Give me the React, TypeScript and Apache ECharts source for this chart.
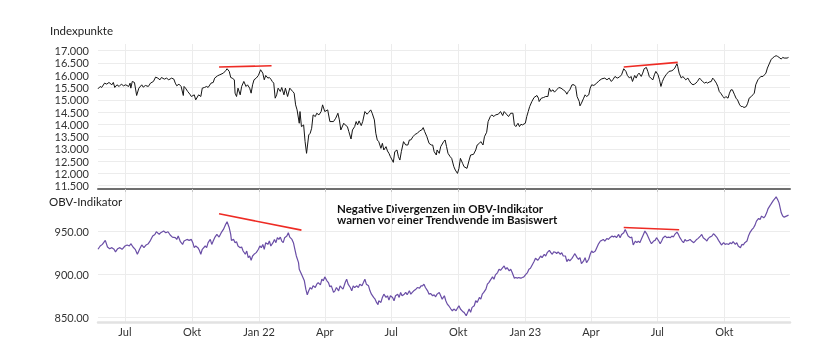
import React, { useEffect, useRef } from "react";
import * as echarts from "echarts";

// x positions are days counted from START_DATE
const START_DATE = "2021-05-25";
const END_DAY = 949;

const tickDates = ["2021-07-01", "2021-10-01", "2022-01-01", "2022-04-01", "2022-07-01", "2022-10-01", "2023-01-01", "2023-04-01", "2023-07-01", "2023-10-01"];
const tickLabels = ["Jul", "Okt", "Jan 22", "Apr", "Jul", "Okt", "Jan 23", "Apr", "Jul", "Okt"];

const priceTicks = [11500, 12000, 12500, 13000, 13500, 14000, 14500, 15000, 15500, 16000, 16500, 17000];
const obvTicks = [850, 900, 950];

const priceDays = [
  0, 3, 5, 9, 12, 15, 19, 21, 23, 26, 29, 32, 35, 38, 42, 44, 45, 47, 50, 53, 56, 60, 62, 65, 69, 72, 76, 79, 82, 85, 87, 91, 94, 97, 101, 104, 106, 108, 111, 114, 117, 118, 120, 123, 126, 128, 132, 134, 138, 141, 143, 146, 149, 151, 155, 158, 160, 164, 167, 172, 175, 177, 180, 182, 184, 187, 188, 190, 192, 195, 197, 200, 203, 205, 208, 210, 212, 214, 217, 220, 223, 226, 228, 230, 233, 235, 237, 239, 241, 243, 245, 247, 250, 252, 255, 257, 260, 263, 267, 269, 271, 273, 276, 277, 279, 282, 284, 286, 289, 291, 293, 295, 298, 300, 303, 306, 308, 311, 315, 318,
  323, 326, 329, 331, 333, 337, 339, 342, 344, 347, 349, 352, 354, 356, 358, 361, 363, 366, 369, 371, 374, 376, 379, 381, 383, 385, 388, 390, 392, 395, 397, 399, 401, 405, 407, 410, 412, 414, 416, 419, 422, 425, 427, 429, 432, 435, 438, 441, 444, 446, 448, 451, 454, 457, 459, 461, 464, 465, 468, 470, 474, 476, 478, 480, 483, 485, 488, 490, 493, 495, 497, 500, 502, 506, 509, 511, 515, 518, 520, 523, 525, 528, 530, 533, 535, 538, 540, 543, 545, 549, 552, 555, 557, 561, 563, 566, 569, 571, 573, 576, 578, 580, 582, 586, 588, 590, 592, 595, 598, 602, 604, 605, 608, 611, 614, 617, 619, 621, 624, 626,
  629, 632, 635, 638, 641, 643, 645, 647, 650, 653, 655, 657, 660, 661, 663, 666, 668, 670, 673, 675, 677, 680, 684, 687, 691, 695, 698, 701, 704, 706, 709, 712, 715, 718, 721, 724, 726, 729, 731, 733, 736, 738, 740, 742, 745, 747, 749, 752, 754, 756, 758, 761, 763, 765, 768, 770, 772, 774, 776, 779, 781, 783, 787, 789, 791, 794, 795, 797, 800, 802, 804, 806, 809, 811, 813, 816, 818, 820, 822, 825, 827, 829, 832, 834, 836, 838, 841, 843, 845, 848, 850, 852, 854, 857, 859, 861, 864, 866, 868, 870, 873, 875, 877, 880, 882, 884, 886, 889, 891, 893, 896, 898, 900, 902, 905, 907, 909, 912, 914, 916, 918, 921, 923, 925, 928, 930, 932, 934, 937, 939, 941, 945, 947,
];
const priceValues = [
  15447, 15543, 15502, 15679, 15638, 15706, 15611, 15706, 15502, 15611, 15543, 15638, 15570, 15611, 15543, 15679, 15475, 15747, 15706, 15175, 15475, 15611, 15515, 15584, 15543, 15679, 15747, 15924, 15883, 15815, 15910, 15842, 15883, 15815, 15883, 15842, 15679, 15570, 15638, 15543, 15175, 15543, 15475, 15338, 15229, 15134, 15202, 14998, 15202, 15134, 15475, 15502, 15543, 15502, 15679, 15706, 15883, 15978, 16019, 16087, 16183, 16265, 16156, 15910, 15883, 15815, 15270, 15134, 15475, 15202, 15543, 15747, 15543, 15611, 15475, 15270, 15611, 15815, 15883, 15992, 16224, 16087, 15815, 15992, 15883, 15910, 15842, 15747, 15679, 15066, 15202, 15475, 15338, 15502, 15202, 15475, 15134, 15475, 15338, 15270, 14794, 14589, 14044, 14521, 13908, 13976, 13295, 12819, 13568, 13636, 13840, 14385, 14317, 14453, 14385, 14521, 14794, 14521, 14589, 14113,
  14113, 14249, 14453, 14181, 13772, 14044, 13976, 13908, 13704, 13404, 13772, 13908, 14113, 13976, 14140, 13949, 14113, 14521, 14412, 14480, 14589, 14453, 14181, 13636, 13363, 13295, 13023, 13227, 12955, 13091, 12914, 12819, 12682, 12451, 12887, 12955, 12682, 12546, 12887, 13295, 13159, 13159, 13363, 13363, 13500, 13595, 13636, 13731, 13772, 13867, 13704, 13500, 13227, 13159, 13159, 12887, 12751, 12955, 12819, 13091, 13295, 13363, 13091, 12819, 12682, 12614, 12274, 12138, 12001, 12206, 12614, 12410, 12274, 12206, 12546, 12751, 12778, 12955, 13159, 13227, 13295, 13159, 13500, 13677, 14113, 14317, 14385, 14317, 14385, 14412, 14521, 14358, 14521, 14385, 14317, 14453, 14453, 13976, 13908, 14044, 13908, 14004, 13976, 14044, 14317, 14521, 14725, 14930, 15093, 15175, 15066, 14930, 15066, 15093, 15134, 15134, 15475, 15338, 15406, 15311,
  15406, 15502, 15475, 15406, 15338, 15229, 15338, 15406, 15611, 15611, 15543, 15134, 14930, 14753, 14862, 15066, 15202, 15134, 15202, 15475, 15611, 15584, 15679, 15774, 15856, 15883, 15815, 15883, 15747, 15815, 15951, 15883, 15924, 16019, 16265, 16156, 15992, 15883, 15951, 15747, 15992, 15883, 16019, 16087, 15951, 16087, 16265, 16319, 16156, 15951, 15883, 15815, 16019, 16156, 16019, 15815, 15543, 15747, 15883, 16019, 16087, 16156, 16183, 16224, 16292, 16469, 16360, 16087, 15883, 15951, 15883, 15815, 15883, 15774, 15679, 15611, 15638, 15679, 15747, 15883, 15815, 15747, 15679, 15720, 15679, 15720, 15747, 15883, 15815, 15679, 15543, 15338, 15270, 15134, 15066, 15134, 15066, 15270, 15406, 15406, 15202, 15066, 14998, 14794, 14725, 14725, 14685, 14725, 14862, 15066, 15134, 15202, 15270, 15611, 15815, 15883, 15951, 15951, 16019, 16087, 16292, 16496, 16632, 16700, 16768, 16796, 16768, 16728, 16659, 16728, 16700, 16700, 16728,
];

const obvDays = [
  0, 3, 6, 10, 13, 16, 19, 22, 24, 27, 30, 33, 37, 40, 43, 45, 48, 51, 54, 57, 60, 63, 66, 69, 72, 75, 78, 80, 84, 86, 90, 93, 96, 99, 102, 106, 108, 110, 113, 116, 118, 122, 125, 128, 130, 132, 134, 137, 139, 141, 143, 147, 149, 151, 154, 156, 158, 160, 163, 166, 169, 172, 175, 177, 180, 182, 183, 186, 188, 190, 192, 195, 197, 199, 202, 204, 206, 208, 210, 212, 214, 217, 220, 222, 224, 226, 228, 230, 233, 235, 237, 240, 242, 244, 246, 248, 250, 252, 254, 256, 259, 261, 263, 266, 268, 270, 272, 275, 276, 278, 280, 283, 285, 287, 289, 291, 293, 295, 298, 300, 302, 305, 307, 309, 311, 314, 316, 318,
  320, 323, 325, 327, 330, 332, 334, 336, 339, 341, 343, 346, 348, 350, 352, 355, 357, 359, 362, 364, 366, 368, 371, 373, 375, 378, 380, 382, 384, 385, 388, 390, 392, 395, 397, 399, 401, 404, 406, 408, 411, 413, 415, 417, 420, 422, 424, 427, 429, 431, 433, 436, 438, 441, 443, 445, 447, 449, 452, 454, 456, 459, 461, 463, 465, 468, 470, 472, 475, 477, 479, 481, 484, 486, 488, 491, 493, 495, 497, 500, 502, 505, 507, 509, 511, 513, 516, 518, 520, 523, 525, 527, 529, 532, 534, 536, 539, 541, 543, 545, 548, 550, 552, 555, 557, 559, 561, 564, 566, 568, 571, 573, 575, 577, 580, 582, 584, 587, 589, 591, 593, 596, 598, 600, 603, 605, 607, 609, 612, 614, 616, 619, 621, 623, 625, 628,
  629, 631, 634, 636, 638, 641, 643, 645, 647, 650, 652, 654, 657, 659, 661, 663, 666, 668, 670, 673, 675, 677, 679, 682, 684, 686, 689, 691, 693, 695, 698, 700, 702, 705, 707, 709, 711, 714, 716, 718, 721, 723, 725, 727, 730, 732, 734, 737, 739, 741, 743, 746, 748, 750, 753, 755, 757, 759, 762, 764, 766, 769, 771, 773, 775, 778, 780, 782, 785, 787, 789, 791, 794, 796, 798, 801, 803, 805, 807, 810, 812, 814, 817, 819, 821, 823, 826, 828, 830, 833, 835, 837, 839, 842, 844, 846, 849, 851, 853, 855, 858, 860, 862, 865, 867, 869, 871, 874, 876, 878, 881, 883, 885, 887, 890, 892, 894, 897, 899, 901, 903, 906, 908, 910, 913, 915, 917, 919, 922, 924, 926, 929, 930, 932, 934, 937, 939, 941, 944, 947,
];
const obvValues = [
  929.2, 933.0, 934.9, 939.6, 931.9, 929.9, 931.1, 929.2, 926.1, 929.9, 931.1, 929.2, 933.0, 934.2, 933.0, 935.7, 931.9, 929.2, 923.4, 929.2, 934.2, 931.1, 934.2, 935.7, 939.6, 944.6, 946.5, 949.6, 946.5, 948.5, 950.4, 948.5, 949.6, 945.8, 943.4, 942.7, 940.7, 944.6, 938.0, 934.9, 938.8, 940.7, 939.6, 940.7, 936.9, 931.1, 933.0, 931.1, 928.0, 923.4, 929.2, 933.0, 931.1, 936.9, 940.7, 934.9, 938.8, 942.7, 946.5, 943.4, 948.5, 952.3, 958.1, 961.2, 954.2, 946.5, 939.6, 940.7, 936.9, 938.0, 933.0, 931.1, 931.9, 927.2, 923.4, 927.2, 919.5, 921.4, 916.4, 921.4, 923.4, 925.3, 929.2, 933.0, 931.1, 934.9, 929.2, 936.9, 934.9, 938.8, 933.0, 936.9, 940.7, 936.9, 942.7, 940.7, 943.4, 938.8, 936.9, 942.7, 944.6, 948.5, 943.4, 940.7, 936.9, 929.2, 921.4, 913.7, 906.0, 902.1, 898.3, 892.5, 882.8, 876.3, 880.9, 884.7, 882.8, 886.7, 884.7, 888.6, 890.5, 887.8, 894.4, 892.5, 897.1, 892.5, 890.5, 885.5,
  886.7, 879.0, 880.9, 884.7, 880.9, 886.7, 884.7, 882.8, 890.5, 894.4, 888.6, 884.7, 880.9, 886.7, 884.7, 886.7, 884.7, 888.6, 886.7, 890.5, 894.4, 888.6, 886.7, 880.9, 877.0, 873.2, 871.2, 867.4, 864.7, 869.3, 867.4, 873.2, 877.0, 873.2, 875.1, 870.1, 875.1, 873.2, 869.3, 875.1, 877.0, 873.2, 879.0, 875.1, 877.0, 879.0, 876.3, 880.9, 877.0, 879.0, 880.9, 882.8, 884.7, 884.0, 886.7, 886.7, 888.6, 884.7, 880.9, 877.0, 877.8, 875.1, 876.3, 873.9, 877.0, 879.0, 875.1, 871.2, 875.1, 869.3, 865.4, 863.5, 859.7, 857.7, 859.7, 857.7, 860.8, 863.5, 859.7, 856.9, 855.8, 851.9, 855.8, 859.7, 855.8, 861.6, 863.5, 869.3, 867.4, 873.2, 871.2, 877.0, 879.0, 882.8, 888.6, 890.5, 894.4, 897.1, 894.4, 899.4, 902.1, 906.0, 904.8, 907.9, 909.8, 906.0, 907.9, 904.1, 906.0, 902.1, 895.6, 896.3, 895.6, 896.3, 895.6, 896.3, 897.1, 900.2, 902.1, 906.0, 907.1, 911.8, 914.9, 918.7, 916.4, 918.7, 921.4, 919.5, 923.4, 921.4, 925.3, 928.0, 925.3, 923.4, 926.4, 925.3,
  924.1, 926.1, 923.4, 925.3, 921.4, 921.4, 914.9, 917.6, 915.6, 918.7, 921.4, 924.1, 919.5, 917.6, 919.5, 912.5, 915.6, 919.5, 913.7, 917.6, 923.4, 927.2, 925.3, 927.2, 931.1, 934.9, 938.8, 939.6, 940.7, 938.8, 941.9, 940.7, 942.7, 944.6, 943.4, 944.6, 942.7, 946.5, 942.7, 946.5, 948.5, 952.3, 948.5, 944.6, 942.7, 943.4, 934.2, 938.8, 936.9, 938.8, 936.9, 942.7, 946.5, 950.4, 946.5, 942.7, 938.8, 935.7, 938.8, 939.6, 942.7, 938.8, 935.7, 938.8, 942.7, 944.6, 942.7, 943.4, 942.7, 944.6, 943.4, 946.5, 949.2, 946.5, 942.7, 938.8, 936.9, 940.7, 938.8, 939.6, 940.7, 938.8, 936.9, 938.8, 940.7, 941.9, 944.6, 946.5, 942.7, 940.7, 938.8, 941.9, 943.4, 944.6, 947.3, 945.8, 942.7, 939.6, 936.9, 934.2, 936.9, 934.9, 935.7, 934.9, 936.9, 935.7, 938.0, 934.9, 936.9, 933.0, 931.1, 934.9, 934.2, 936.9, 938.8, 944.6, 948.5, 952.3, 954.2, 957.3, 962.0, 965.1, 963.9, 967.8, 965.8, 967.8, 971.6, 976.6, 980.5, 983.2, 985.9, 989.0, 990.2, 987.1, 983.2, 971.6, 967.8, 966.6, 967.8, 968.9,
];

// divergence lines: [day, value]
const priceDivergence1 = [[166, 16333], [238, 16387]];
const priceDivergence2 = [[721, 16333], [795, 16523]];
const obvDivergence1 = [[166, 970.5], [279, 951.5]];
const obvDivergence2 = [[721, 954.6], [797, 951.9]];

const annotationLines = ["Negative Divergenzen im OBV-Indikator", "warnen vor einer Trendwende im Basiswert"];

const FONT = "Lato, 'Noto Sans', sans-serif";
const DAY_MS = 86400000;
const START_TS = Date.parse(START_DATE);
const tickDays = tickDates.map((d) => Math.round((Date.parse(d) - START_TS) / DAY_MS));

const formatDe = (v: number) => String(Math.round(v)).replace(/\B(?=(\d{3})+(?!\d))/g, ".");

export default function App() {
  const ref = useRef<HTMLDivElement>(null);
  useEffect(() => {
    if (!ref.current) return;
    const chart = echarts.init(ref.current, undefined, { renderer: "svg" });
    const gridColor = "#ececec";
    const xLabel = (v: number) => {
      const i = tickDays.indexOf(Math.round(v));
      return i >= 0 ? tickLabels[i] : "";
    };
    const baseX = {
      type: "value" as const,
      min: 0,
      max: END_DAY,
      splitLine: { show: true, lineStyle: { color: gridColor, width: 1 } },
    };
    const option: any = {
      animation: false,
      textStyle: { fontFamily: FONT },
      grid: [
        { left: 98, right: 50, top: 44, height: 145 },
        { left: 98, right: 50, top: 190.5, height: 131.5 },
      ],
      xAxis: [
        {
          ...baseX,
          gridIndex: 0,
          axisLine: { show: true, onZero: false, lineStyle: { color: "#6f6f6f", width: 2 } },
          axisTick: { show: true, customValues: tickDays, length: 3, lineStyle: { color: "#c8c8c8" } },
          axisLabel: { show: false, customValues: tickDays },
        },
        {
          ...baseX,
          gridIndex: 1,
          axisLine: { show: true, onZero: false, lineStyle: { color: "#e2e2e2", width: 2.5 } },
          axisTick: { show: false, customValues: tickDays },
          axisLabel: { show: true, customValues: tickDays, formatter: xLabel, margin: 4, fontSize: 11, color: "#333", fontFamily: FONT },
        },
      ],
      yAxis: [
        {
          type: "value",
          gridIndex: 0,
          min: 11366,
          max: 17273,
          axisLine: { show: false },
          axisTick: { show: false, customValues: priceTicks },
          axisLabel: { customValues: priceTicks, formatter: formatDe, margin: 9, fontSize: 11, color: "#333", fontFamily: FONT },
          splitLine: { show: true, lineStyle: { color: gridColor, width: 1 } },
        },
        {
          type: "value",
          gridIndex: 1,
          min: 844.6,
          max: 997.6,
          axisLine: { show: false },
          axisTick: { show: false, customValues: obvTicks },
          axisLabel: { customValues: obvTicks, formatter: (v: number) => v.toFixed(2), margin: 9, fontSize: 11, color: "#333", fontFamily: FONT },
          splitLine: { show: true, lineStyle: { color: gridColor, width: 1 } },
        },
      ],
      series: [
        {
          type: "line",
          xAxisIndex: 0,
          yAxisIndex: 0,
          showSymbol: false,
          data: priceDays.map((d, i) => [d, priceValues[i]]),
          lineStyle: { color: "#151515", width: 1 },
          itemStyle: { color: "#151515" },
        },
        {
          type: "line",
          xAxisIndex: 1,
          yAxisIndex: 1,
          showSymbol: false,
          data: obvDays.map((d, i) => [d, obvValues[i]]),
          lineStyle: { color: "#6a4ea6", width: 1.2 },
          itemStyle: { color: "#6a4ea6" },
        },
        ...[priceDivergence1, priceDivergence2].map((seg) => ({
          type: "line",
          xAxisIndex: 0,
          yAxisIndex: 0,
          showSymbol: false,
          data: seg,
          lineStyle: { color: "#ee2b24", width: 1.6 },
        })),
        ...[obvDivergence1, obvDivergence2].map((seg) => ({
          type: "line",
          xAxisIndex: 1,
          yAxisIndex: 1,
          showSymbol: false,
          data: seg,
          lineStyle: { color: "#ee2b24", width: 1.6 },
        })),
      ],
      graphic: [
        { type: "text", left: 50, top: 24, style: { text: "Indexpunkte", fontSize: 11.5, fill: "#222", fontFamily: FONT } },
        { type: "text", left: 49, top: 195, style: { text: "OBV-Indikator", fontSize: 11.5, fill: "#222", fontFamily: FONT } },
        { type: "text", x: 337, y: 208, style: { text: annotationLines[0], fontSize: 11.5, fontWeight: "bold", fill: "#111", fontFamily: FONT, verticalAlign: "middle" } },
        { type: "text", x: 337, y: 219.5, style: { text: annotationLines[1], fontSize: 11.5, fontWeight: "bold", fill: "#111", fontFamily: FONT, verticalAlign: "middle" } },
      ],
    };
    chart.setOption(option);
    return () => chart.dispose();
  }, []);
  return <div ref={ref} style={{ width: 840, height: 360, position: "fixed", left: 0, top: 0 }} />;
}
